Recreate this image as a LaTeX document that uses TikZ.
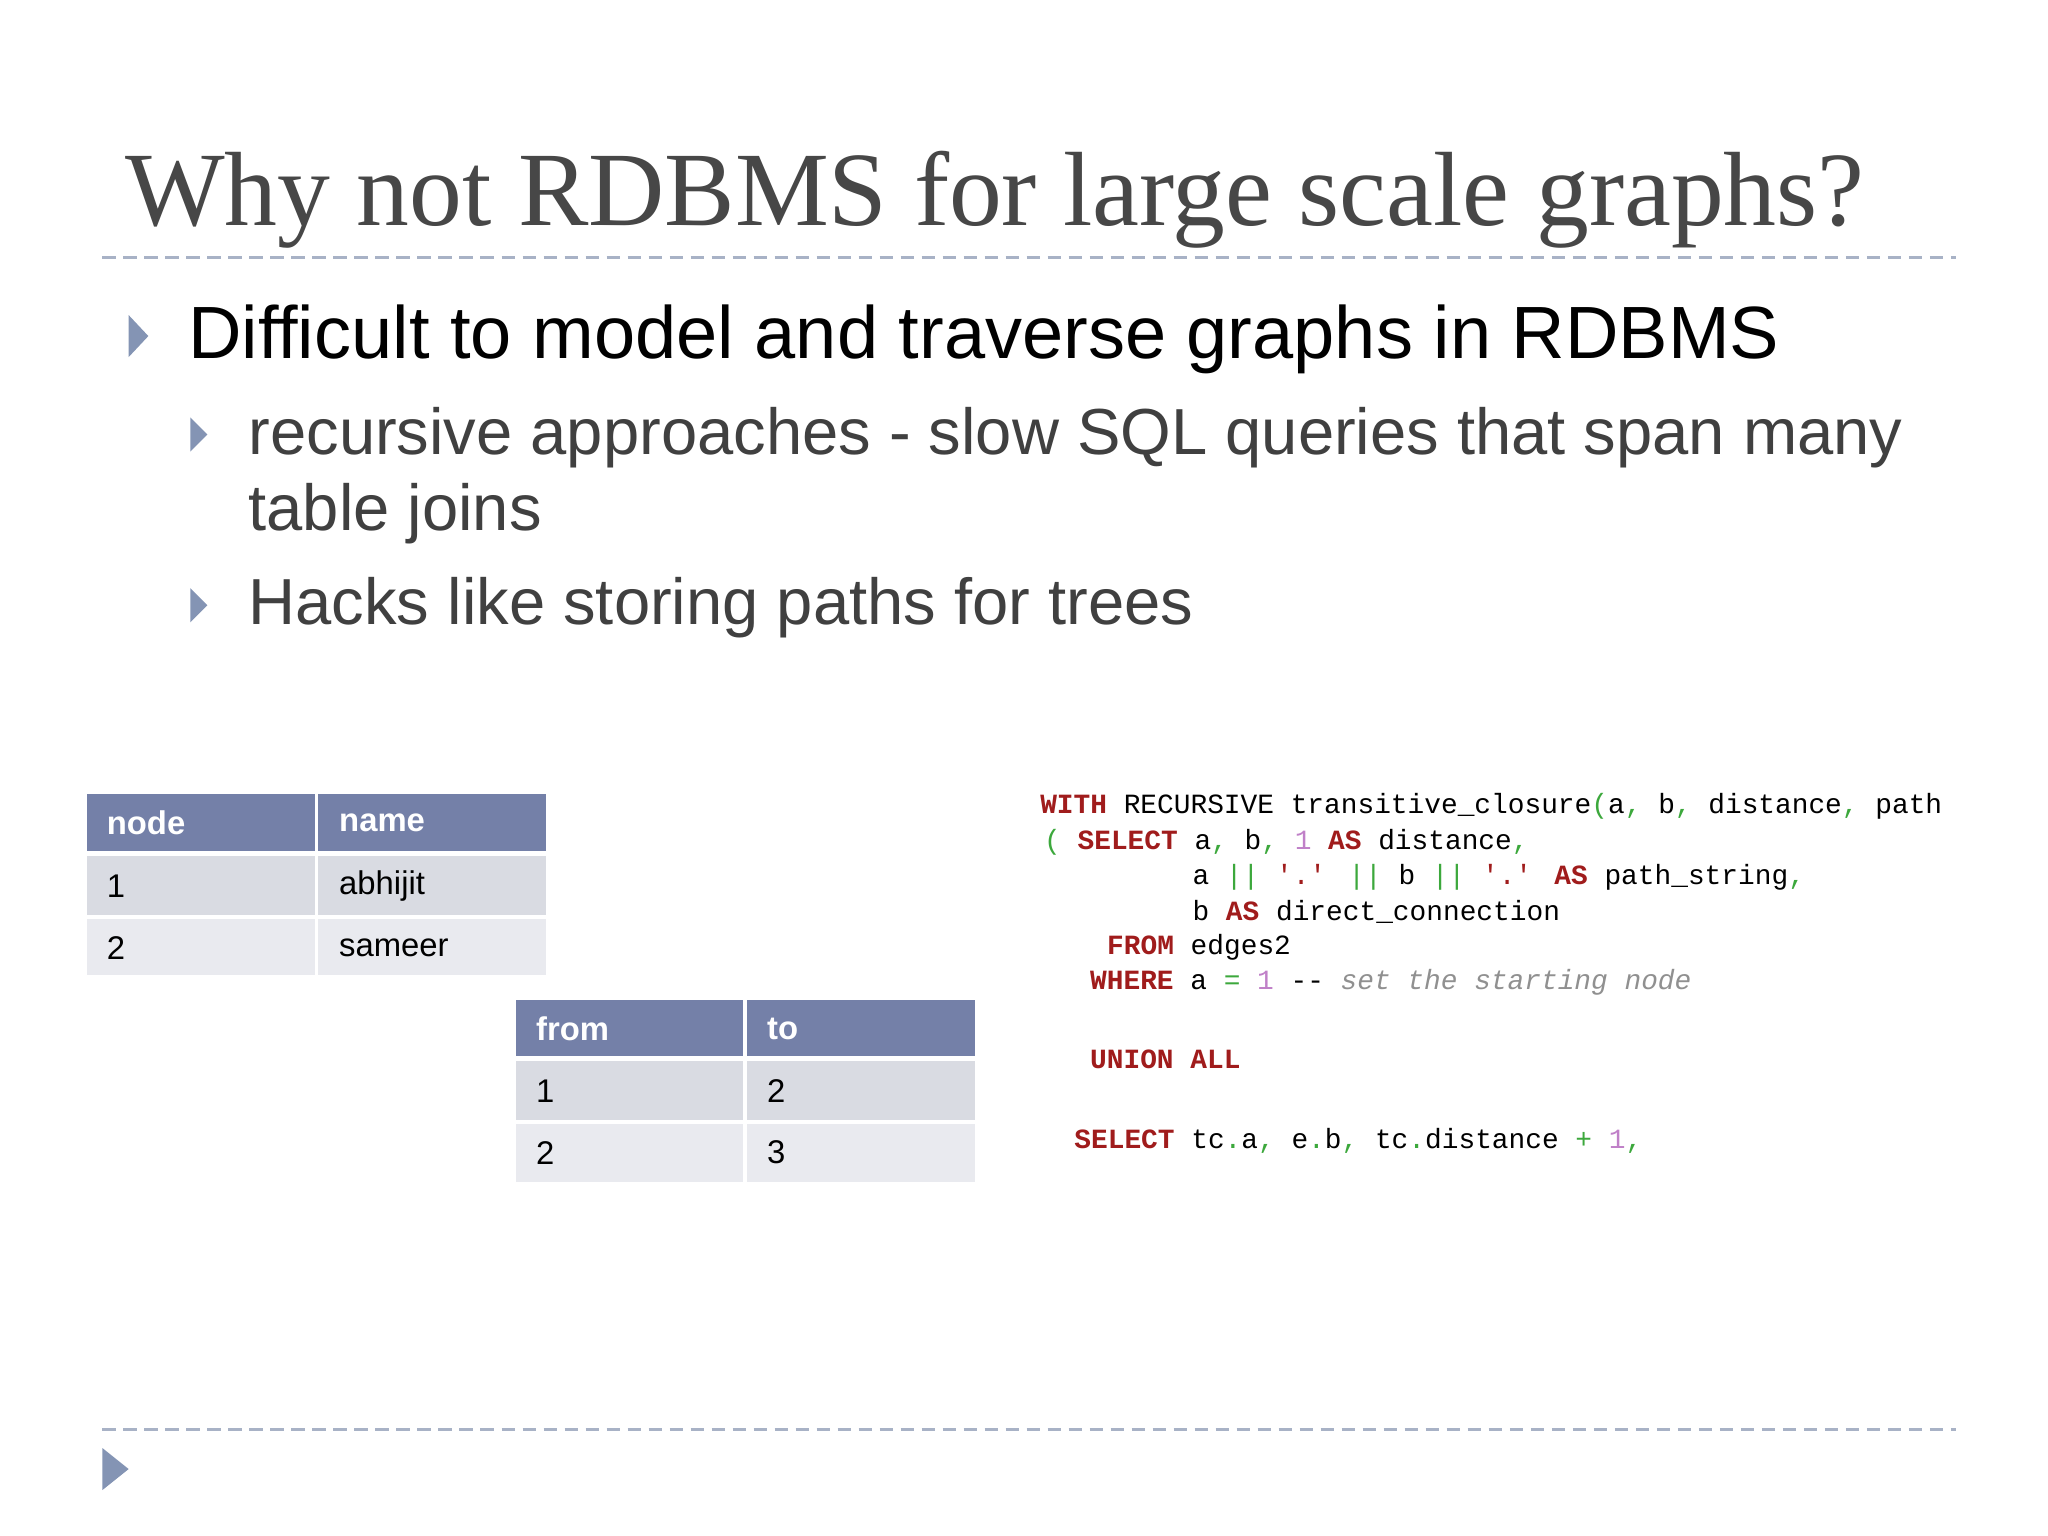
\documentclass[tikz,border=0pt]{standalone}
\usepackage{fontspec}
\setmainfont{Liberation Sans}
\newfontfamily\titlefont{Liberation Serif}
\newfontfamily\codefont{Liberation Mono}
\definecolor{hdr}{HTML}{7480A8}
\definecolor{rowa}{HTML}{D9DBE2}
\definecolor{rowb}{HTML}{E9EAEF}
\definecolor{tri}{HTML}{8494B4}
\definecolor{dash}{HTML}{A8B2C6}
\definecolor{kw}{HTML}{A01C1C}
\definecolor{pn}{HTML}{3CA83C}
\definecolor{nm}{HTML}{C080C8}
\definecolor{cm}{HTML}{909090}
\newcommand{\K}[1]{\textcolor{kw}{\textbf{#1}}}
\newcommand{\G}[1]{\textcolor{pn}{#1}}
\newcommand{\N}[1]{\textcolor{nm}{#1}}
\begin{document}
\begin{tikzpicture}[x=0.5pt,y=-0.5pt,
  hcell/.style={fill=hdr,draw=none},
  ra/.style={fill=rowa,draw=none},
  rb/.style={fill=rowb,draw=none},
  htxt/.style={anchor=west,text=white,font=\fontsize{12.5}{14}\selectfont\bfseries,inner sep=0},
  ctxt/.style={anchor=west,text=black,font=\fontsize{12.5}{14}\selectfont,inner sep=0},
  code/.style={anchor=base west,inner sep=0,font=\codefont\fontsize{10.6}{12}\selectfont},
  dl/.style={draw=dash,line width=1pt,dash pattern=on 5pt off 3pt}]
\useasboundingbox (0,0) rectangle (1560,1170);
\fill[white] (0,0) rectangle (1560,1170);
% title
\node[anchor=base west,inner sep=0,text=black!72,font=\titlefont\fontsize{40.2}{46}\selectfont] (title) at (95,172) {Why not RDBMS for large scale graphs?};
\draw[dl] (78,196) -- (1490,196);
\draw[dl] (78,1089) -- (1490,1089);
% bullets
\fill[tri] (98,240) -- (113,256) -- (98,272) -- cycle;
\node[anchor=base west,inner sep=0,font=\fontsize{28.2}{34}\selectfont] (b1) at (143,273) {Difficult to model and traverse graphs in RDBMS};
\fill[tri] (145,318) -- (158,331) -- (145,344) -- cycle;
\node[anchor=base west,inner sep=0,text=black!75,font=\fontsize{24.8}{30}\selectfont] (b2) at (189,346) {recursive approaches - slow SQL queries that span many};
\node[anchor=base west,inner sep=0,text=black!75,font=\fontsize{24.8}{30}\selectfont] (b2b) at (189,404) {table joins};
\fill[tri] (145,448) -- (158,461) -- (145,474) -- cycle;
\node[anchor=base west,inner sep=0,text=black!75,font=\fontsize{24.8}{30}\selectfont] (b3) at (189,476) {Hacks like storing paths for trees};
\fill[tri] (78,1103) -- (98,1119) -- (78,1135) -- cycle;
% table 1
\fill[hcell] (66,605) rectangle (240,648); \fill[hcell] (242,605) rectangle (416,648);
\fill[ra] (66,652) rectangle (240,697); \fill[ra] (242,652) rectangle (416,697);
\fill[rb] (66,700) rectangle (240,743); \fill[rb] (242,700) rectangle (416,743);
\node[htxt] (t1a) at (81,627) {node}; \node[htxt] (t1b) at (258,627) {name};
\node[ctxt] (t1c) at (81,675) {1}; \node[ctxt] (t1d) at (258,675) {abhijit};
\node[ctxt] (t1e) at (81,722) {2}; \node[ctxt] (t1f) at (258,722) {sameer};
% table 2
\fill[hcell] (393,762) rectangle (566,804); \fill[hcell] (569,762) rectangle (743,804);
\fill[ra] (393,808) rectangle (566,853); \fill[ra] (569,808) rectangle (743,853);
\fill[rb] (393,856) rectangle (566,900); \fill[rb] (569,856) rectangle (743,900);
\node[htxt] (t2a) at (408,784) {from}; \node[htxt] (t2b) at (584,784) {to};
\node[ctxt] (t2c) at (408,831) {1}; \node[ctxt] (t2d) at (584,831) {2};
\node[ctxt] (t2e) at (408,878) {2}; \node[ctxt] (t2f) at (584,878) {3};
% code
\begin{scope}
\clip (780,590) rectangle (1478,900);
\node[code] (c1) at (792,620) {\K{WITH} RECURSIVE transitive\_closure\G{(}a\G{,} b\G{,} distance\G{,} path};
\node[code] (c2) at (795,647) {\G{(} \K{SELECT} a\G{,} b\G{,} \N{1} \K{AS} distance\G{,}};
\node[code] (c3) at (908,674) {a \G{||} \textcolor{kw}{'.'} \G{||} b \G{||} \textcolor{kw}{'.'} \K{AS} path\_string\G{,}};
\node[code] (c4) at (908,701) {b \K{AS} direct\_connection};
\node[code] (c5) at (843,727) {\K{FROM} edges2};
\node[code] (c6) at (830,754) {\K{WHERE} a \G{=} \N{1} -- \textcolor{cm}{\itshape set the starting node}};
\node[code] (c7) at (830,814) {\K{UNION ALL}};
\node[code] (c8) at (818,875) {\K{SELECT} tc\G{.}a\G{,} e\G{.}b\G{,} tc\G{.}distance \G{+} \N{1}\G{,}};
\end{scope}
\end{tikzpicture}
\end{document}
